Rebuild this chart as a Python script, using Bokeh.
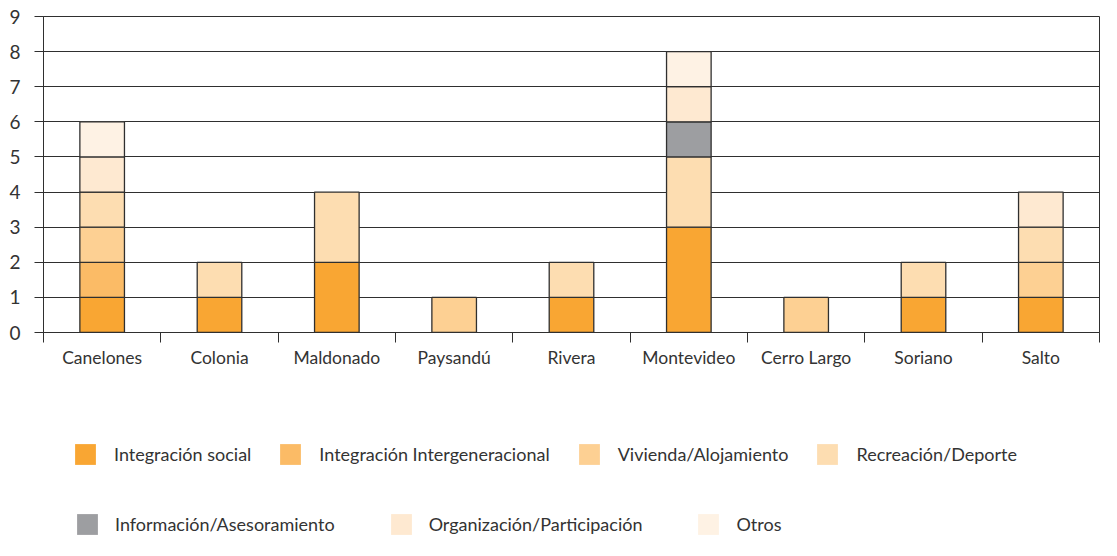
from bokeh.plotting import figure
from bokeh.layouts import column
from bokeh.models import Range1d, FixedTicker, Legend, LegendItem, ColumnDataSource
from bokeh.embed import file_html
from bokeh.resources import INLINE

# ---------------- data ----------------
regions = ["Canelones", "Colonia", "Maldonado", "Paysandú", "Rivera",
           "Montevideo", "Cerro Largo", "Soriano", "Salto"]

series_names = ["Integración social", "Integración Intergeneracional",
                "Vivienda/Alojamiento", "Recreación/Deporte",
                "Información/Asesoramiento", "Organización/Participación", "Otros"]

integracion_social = [1, 1, 2, 0, 1, 3, 0, 1, 1]
integracion_intergeneracional = [1, 0, 0, 0, 0, 0, 0, 0, 0]
vivienda_alojamiento = [1, 0, 0, 1, 0, 0, 1, 0, 1]
recreacion_deporte = [1, 1, 2, 0, 1, 2, 0, 1, 1]
informacion_asesoramiento = [0, 0, 0, 0, 0, 1, 0, 0, 0]
organizacion_participacion = [1, 0, 0, 0, 0, 1, 0, 0, 1]
otros = [1, 0, 0, 0, 0, 1, 0, 0, 0]

series_values = [integracion_social, integracion_intergeneracional,
                 vivienda_alojamiento, recreacion_deporte,
                 informacion_asesoramiento, organizacion_participacion, otros]

colors = ["#F9A633", "#FBBB66", "#FDD093", "#FDDDB1", "#9D9EA1", "#FEE9D1", "#FEF2E4"]

y_ticks = list(range(0, 10))

# ---------------- main chart ----------------
FONT = "Lato"
TXT = "#333333"
LINE = "#2f2f2f"
W = 1101
LEFT = 43
RIGHT = 2

n = len(regions)
p = figure(width=W, height=378, output_backend="svg", toolbar_location=None,
           x_range=Range1d(0, n), y_range=Range1d(0, 9),
           min_border_top=16, min_border_left=LEFT, min_border_right=RIGHT,
           min_border_bottom=46)
p.background_fill_color = "white"
p.border_fill_color = "white"
p.outline_line_color = LINE
p.outline_line_width = 1

# grid
p.xgrid.visible = False
p.ygrid.ticker = FixedTicker(ticks=y_ticks)
p.ygrid.grid_line_color = LINE
p.ygrid.grid_line_width = 1

# y axis
p.yaxis.ticker = FixedTicker(ticks=y_ticks)
p.yaxis.major_tick_out = 9
p.yaxis.major_tick_in = 0
p.yaxis.minor_tick_line_color = None
p.yaxis.major_label_standoff = 14
p.yaxis.major_label_text_font = FONT
p.yaxis.major_label_text_font_size = "19px"
p.yaxis.major_label_text_color = TXT
p.yaxis.axis_line_color = LINE
p.yaxis.major_tick_line_color = LINE

# x axis: labels at centres, ticks at boundaries
centres = [i + 0.5 for i in range(n)]
p.xaxis.ticker = FixedTicker(ticks=centres, minor_ticks=list(range(n + 1)))
p.xaxis.major_label_overrides = {c: r for c, r in zip(centres, regions)}
p.xaxis.major_tick_out = 0
p.xaxis.major_tick_in = 0
p.xaxis.minor_tick_out = 10
p.xaxis.minor_tick_in = 0
p.xaxis.minor_tick_line_color = LINE
p.xaxis.axis_line_color = LINE
p.xaxis.major_label_standoff = 4
p.xaxis.major_label_text_font = FONT
p.xaxis.major_label_text_font_size = "17.5px"
p.xaxis.major_label_text_color = TXT

# stacked bars
base = [0] * n
for name, vals, col in zip(series_names, series_values, colors):
    sel = [i for i, v in enumerate(vals) if v > 0]
    src = ColumnDataSource(dict(
        x=[centres[i] for i in sel],
        bottom=[base[i] for i in sel],
        top=[base[i] + vals[i] for i in sel],
        region=[regions[i] for i in sel],
    ))
    p.vbar(x="x", bottom="bottom", top="top", width=0.38, source=src,
           fill_color=col, line_color=LINE, line_width=1.3)
    base = [b + v for b, v in zip(base, vals)]

# ---------------- legend panel ----------------
LH = 540 - 378
lf = figure(width=W, height=LH, output_backend="svg", toolbar_location=None,
            x_range=Range1d(0, 1), y_range=Range1d(0, 1),
            x_axis_type=None, y_axis_type=None,
            min_border_left=LEFT, min_border_right=RIGHT,
            min_border_top=0, min_border_bottom=0)
lf.outline_line_color = None
lf.xgrid.visible = False
lf.ygrid.visible = False
lf.background_fill_color = "white"
lf.border_fill_color = "white"

# swatch renderers for the legend (kept outside the visible range of this panel)
swatch_src = ColumnDataSource(dict(x=[-5.0], bottom=[-6.0], top=[-5.0]))


def make_legend(names, cols, loc, standoff, spacing):
    items = []
    for nm, c in zip(names, cols):
        r = lf.vbar(x="x", bottom="bottom", top="top", width=0.1, source=swatch_src,
                    fill_color=c, line_color=None)
        items.append(LegendItem(label=nm, renderers=[r]))
    lg = Legend(items=items, orientation="horizontal", location=loc,
                margin=0, padding=0, spacing=spacing,
                label_standoff=standoff, glyph_width=26, glyph_height=26,
                border_line_color=None, background_fill_alpha=0,
                label_text_font=FONT, label_text_font_size="18px",
                label_text_color=TXT, label_text_baseline="middle")
    lf.add_layout(lg, "center")
    return lg


make_legend(series_names[:4], colors[:4], (72 - LEFT, 73), 16, 26)
make_legend(series_names[4:], colors[4:], (74 - LEFT, 3), 15, 53)

layout = column(p, lf, spacing=0)
open("out.html", "w").write(file_html(layout, INLINE))
